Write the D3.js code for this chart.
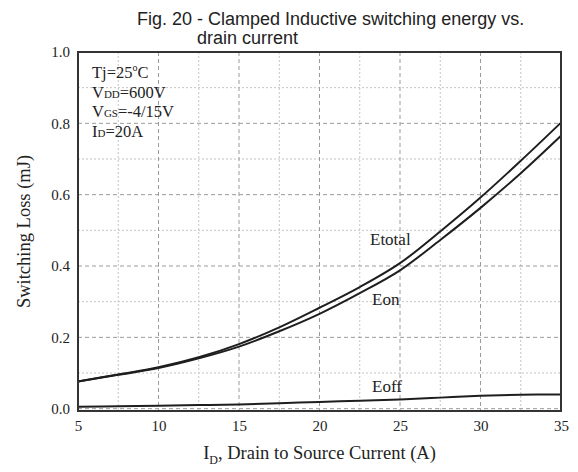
<!DOCTYPE html>
<html>
<head>
<meta charset="utf-8">
<script src="https://cdn.jsdelivr.net/npm/d3@7"></script>
<style>
  html, body { margin: 0; padding: 0; background: #fff; }
  svg { display: block; }
</style>
</head>
<body>
<svg id="chart" width="578" height="472"></svg>
<script>
// ---- data ----
const current = [5, 7.5, 10, 12.5, 15, 17.5, 20, 22.5, 25, 27.5, 30, 32.5, 35];
const eTotal  = [0.076, 0.096, 0.116, 0.144, 0.181, 0.228, 0.283, 0.341, 0.408, 0.497, 0.592, 0.695, 0.802];
const eOn     = [0.076, 0.095, 0.114, 0.141, 0.174, 0.217, 0.266, 0.324, 0.388, 0.473, 0.563, 0.660, 0.765];
const eOff    = [0.0056, 0.007, 0.0084, 0.010, 0.012, 0.015, 0.019, 0.022, 0.026, 0.031, 0.036, 0.039, 0.040];
const seriesNames = ["Etotal", "Eon", "Eoff"];
const xTicks = [5, 10, 15, 20, 25, 30, 35];
const yTicks = [0.0, 0.2, 0.4, 0.6, 0.8, 1.0];
const xMinor = [7.5, 12.5, 17.5, 22.5, 27.5, 32.5];
const yMinor = [0.1, 0.3, 0.5, 0.7, 0.9];

const svg = d3.select("#chart");
const serif = "'Liberation Serif', 'Times New Roman', serif";
const sans = "'Liberation Sans', Arial, sans-serif";

const mL = 78, mR = 561, mT = 52, mB = 411;
const x = d3.scaleLinear().domain([5, 35]).range([mL, mR]);
const y = d3.scaleLinear().domain([-0.0065, 1.0]).range([mB, mT]);

// grid: minor dotted
const grid = svg.append("g");
grid.selectAll("line.vmin").data(xMinor).join("line").attr("class", "vmin")
  .attr("x1", d => x(d)).attr("x2", d => x(d)).attr("y1", mT).attr("y2", mB)
  .attr("stroke", "#c4c4c4").attr("stroke-width", 1).attr("stroke-dasharray", "2,2");
grid.selectAll("line.hmin").data(yMinor).join("line").attr("class", "hmin")
  .attr("x1", mL).attr("x2", mR).attr("y1", d => y(d)).attr("y2", d => y(d))
  .attr("stroke", "#c4c4c4").attr("stroke-width", 1).attr("stroke-dasharray", "2,2");
// grid: major dashed
grid.selectAll("line.vmaj").data(xTicks.slice(1, -1)).join("line").attr("class", "vmaj")
  .attr("x1", d => x(d)).attr("x2", d => x(d)).attr("y1", mT).attr("y2", mB)
  .attr("stroke", "#9a9a9a").attr("stroke-width", 1).attr("stroke-dasharray", "4,3");
grid.selectAll("line.hmaj").data(yTicks.filter(d => d < 1)).join("line").attr("class", "hmaj")
  .attr("x1", mL).attr("x2", mR).attr("y1", d => y(d)).attr("y2", d => y(d))
  .attr("stroke", "#9a9a9a").attr("stroke-width", 1).attr("stroke-dasharray", "4,3");

// curves
const line = d3.line().x(d => x(d[0])).y(d => y(d[1])).curve(d3.curveCatmullRom.alpha(0.5));
[eTotal, eOn, eOff].forEach(vals => {
  svg.append("path")
    .datum(current.map((c, i) => [c, vals[i]]))
    .attr("d", line)
    .attr("fill", "none").attr("stroke", "#1e1e1e").attr("stroke-width", 2);
});

// frame
svg.append("rect").attr("x", mL).attr("y", mT)
  .attr("width", mR - mL).attr("height", mB - mT)
  .attr("fill", "none").attr("stroke", "#333").attr("stroke-width", 2);

// axes (labels only, via d3 axis)
const xAxis = d3.axisBottom(x).tickValues(xTicks).tickSize(0).tickPadding(9).tickFormat(d3.format("d"));
const gx = svg.append("g").attr("transform", `translate(0,${mB})`).call(xAxis);
gx.select(".domain").remove();
gx.selectAll("text").attr("font-family", serif).attr("font-size", 15).attr("fill", "#222");

const yAxis = d3.axisLeft(y).tickValues(yTicks).tickSize(0).tickPadding(8).tickFormat(d3.format(".1f"));
const gy = svg.append("g").attr("transform", `translate(${mL},0)`).call(yAxis);
gy.select(".domain").remove();
gy.selectAll("text").attr("font-family", serif).attr("font-size", 15).attr("fill", "#222");

// axis titles
svg.append("text")
  .attr("transform", `translate(24,${(mT + mB) / 2}) rotate(-90)`)
  .attr("text-anchor", "middle").attr("dy", "0.35em")
  .attr("font-family", serif).attr("font-size", 18.5).attr("fill", "#222")
  .text("Switching Loss (mJ)");

const xl = svg.append("text")
  .attr("x", (mL + mR) / 2).attr("y", 459)
  .attr("text-anchor", "middle")
  .attr("font-family", serif).attr("font-size", 18.5).attr("fill", "#222");
xl.append("tspan").text("I");
xl.append("tspan").attr("font-size", 12).attr("dy", 5).text("D");
xl.append("tspan").attr("dy", -5).text(", Drain to Source Current (A)");

// title
const title = svg.append("g").attr("font-family", sans).attr("font-size", 18).attr("fill", "#222");
title.append("text").attr("x", 137).attr("y", 25).text("Fig. 20 - Clamped Inductive switching energy vs.");
title.append("text").attr("x", 197).attr("y", 44).text("drain current");

// conditions text
const cond = svg.append("g").attr("font-family", serif).attr("font-size", 16.5).attr("fill", "#222");
const t1 = cond.append("text").attr("x", 92).attr("y", 78);
t1.append("tspan").text("Tj=25");
t1.append("tspan").attr("font-size", 10).attr("dy", -7).text("o");
t1.append("tspan").attr("dy", 7).text("C");
const t2 = cond.append("text").attr("x", 92).attr("y", 98);
t2.append("tspan").text("V");
t2.append("tspan").attr("font-size", 11).text("DD");
t2.append("tspan").text("=600V");
const t3 = cond.append("text").attr("x", 92).attr("y", 117);
t3.append("tspan").text("V");
t3.append("tspan").attr("font-size", 11).text("GS");
t3.append("tspan").text("=-4/15V");
const t4 = cond.append("text").attr("x", 92).attr("y", 137);
t4.append("tspan").text("I");
t4.append("tspan").attr("font-size", 11).text("D");
t4.append("tspan").text("=20A");

// curve labels
const labelPos = [[370, 245], [372, 305], [372, 392]];
svg.append("g").selectAll("text").data(seriesNames).join("text")
  .attr("x", (d, i) => labelPos[i][0]).attr("y", (d, i) => labelPos[i][1])
  .attr("font-family", serif).attr("font-size", 17).attr("fill", "#222")
  .text(d => d);
</script>
</body>
</html>
